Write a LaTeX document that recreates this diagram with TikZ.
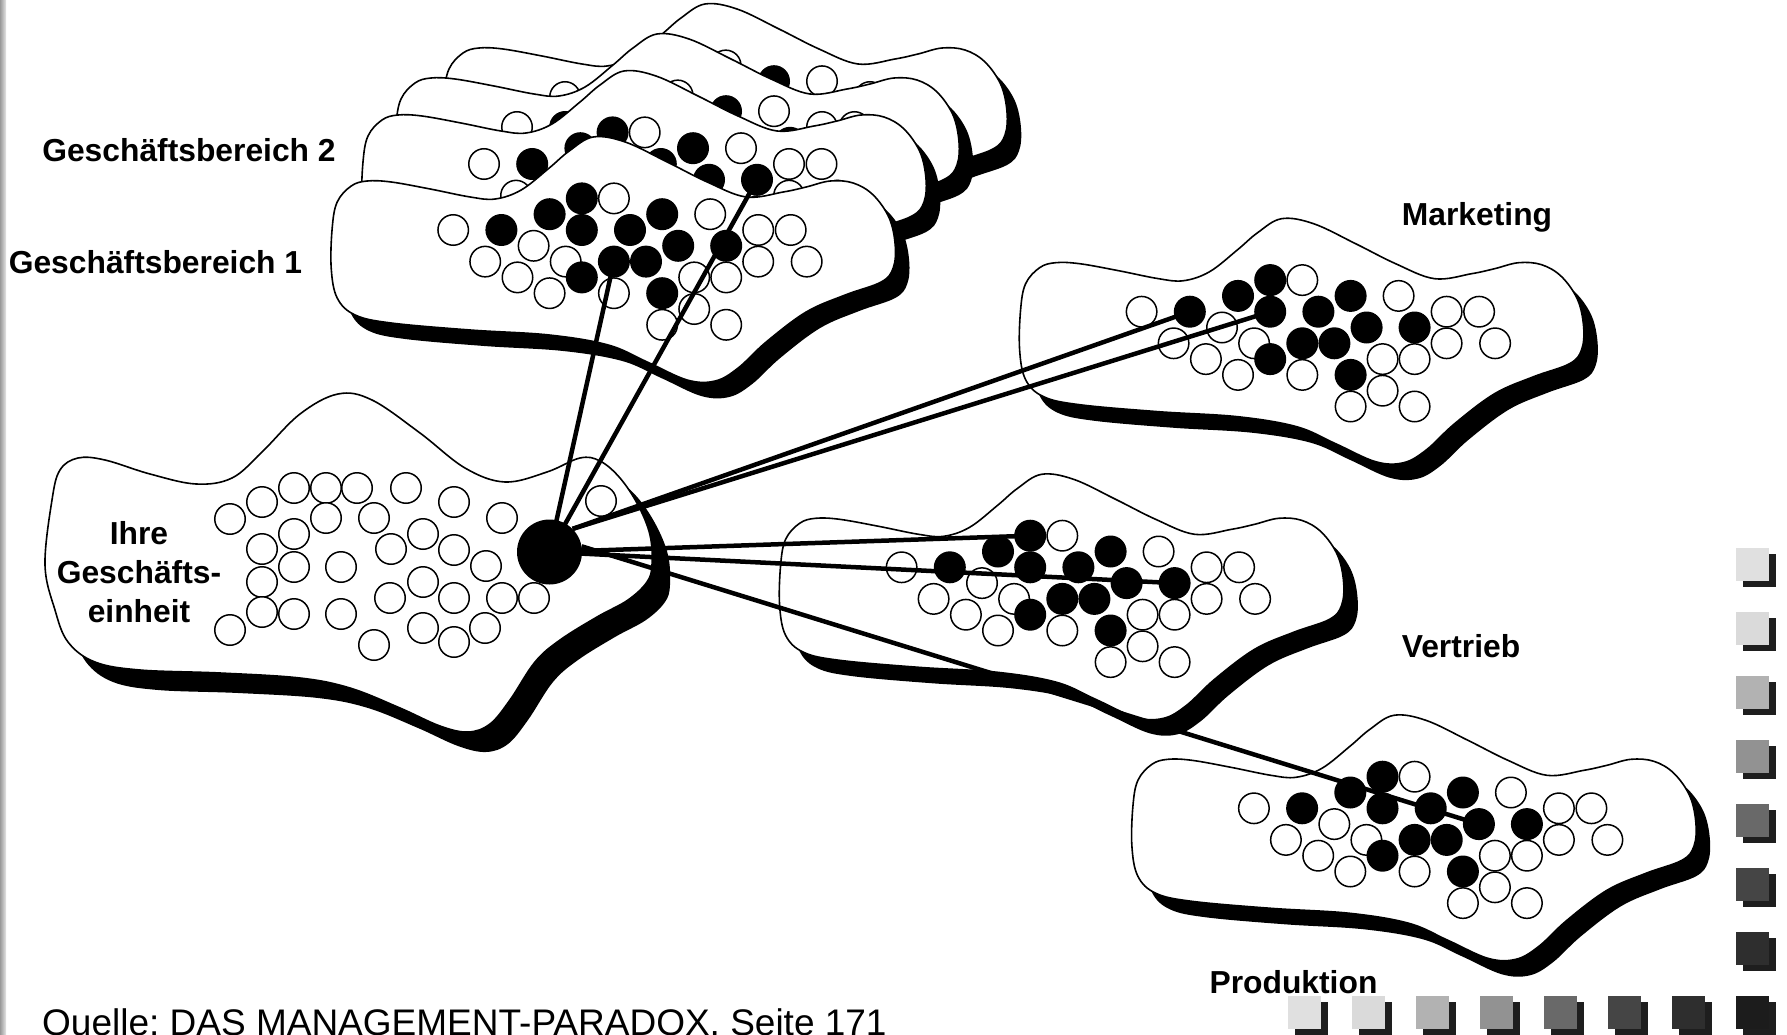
\documentclass[tikz,border=0pt]{standalone}
\usepackage{fontspec}
\setmainfont{Liberation Sans}
\frenchspacing
\definecolor{sq0}{HTML}{E0E0E0}
\definecolor{sq1}{HTML}{DADADA}
\definecolor{sq2}{HTML}{B2B2B2}
\definecolor{sq3}{HTML}{929292}
\definecolor{sq4}{HTML}{696969}
\definecolor{sq5}{HTML}{454545}
\definecolor{sq6}{HTML}{2E2E2E}
\definecolor{sq7}{HTML}{1C1C1C}
\definecolor{sqshadow}{HTML}{1E1E1E}
\newcommand{\blobpath}[1]{\path[#1] plot[smooth cycle, tension=0.6] coordinates {(-121,-2) (-116,-28) (-102,-44) (-86,-49) (-62,-48) (-23,-41) (17,-33) (42,-31) (68,-40) (96,-62) (116,-79) (140,-93) (172,-88) (214,-68) (254,-48) (293,-33) (330,-38) (353,-43) (377,-49) (400,-47) (420,-35) (436,-12) (442,15) (440,38) (428,52) (392,65) (353,82) (313,112) (285,138) (262,151) (234,150) (194,132) (155,115) (96,105) (17,100) (-62,93) (-98,85) (-116,68) (-122,38)};}
\newcommand{\dotpattern}[1]{%
  \foreach \n/\x/\y in {1/0/0, 5/160.7/-31.6, 7/80.4/15.8, 10/257/-15.8, 13/305/0, 14/337.5/0, 15/32/31.6, 16/64.3/47.4, 17/96.4/63.2, 18/112.5/31.6, 22/160.7/63.2, 24/241/47.4, 25/273/47.4, 26/305/31.6, 27/353.5/31.6, 28/241/79, 29/209/94.8, 30/273/94.8}
    {\node[oc] (#1-\n) at (\x,\y) {};}
  \foreach \n/\x/\y in {2/48.2/0, 3/96.4/-15.8, 4/128.6/-31.6, 6/128.6/0, 8/176.8/0, 9/209/-15.8, 11/225/15.8, 12/273/15.8, 19/128.6/47.4, 20/160.7/31.6, 21/192.8/31.6, 23/209/63.2}
    {\node[fc] (#1-\n) at (\x,\y) {};}
}
\newcommand{\deptblob}[2]{%
  \begin{scope}[shift={#1}]
    \blobpath{fill=black, shift={(14,16)}}
    \blobpath{draw=black, fill=white, line width=1.6pt}
    \dotpattern{#2}
  \end{scope}}
\begin{document}
\begin{tikzpicture}[x=1pt, y=-1pt,
  oc/.style={circle, draw=black, fill=white, line width=1.5pt, minimum size=30.5pt, inner sep=0pt},
  fc/.style={circle, fill=black, minimum size=32pt, inner sep=0pt},
  conn/.style={line width=4.5pt},
  lbl/.style={font=\fontsize{31.8}{39}\selectfont\bfseries, inner sep=0pt, anchor=base},
  sqsh/.style={fill=sqshadow}]
\useasboundingbox (0,0) rectangle (1787,1035);
\fill[white] (0,0) rectangle (1787,1035);
\shade[left color=black!40, right color=black!10] (0,0) rectangle (6,1035);

% Geschaeftsbereiche (stack, back to front)
\deptblob{(565,97)}{Ga}
\deptblob{(517,127)}{Gb}
\deptblob{(484,164)}{Gc}
\deptblob{(453.2,230)}{G1}

% Ihre Geschaeftseinheit
\path[fill=black, shift={(18,20)}] plot[smooth cycle, tension=0.6] coordinates {(45,565) (52,500) (60,470) (78,458) (105,460) (150,474) (196,484) (232,478) (262,452) (300,414) (338,394) (372,400) (420,433) (465,468) (505,482) (547,472) (580,458) (600,461) (620,478) (638,505) (650,535) (652,565) (647,582) (628,600) (597,617) (560,640) (535,662) (510,700) (490,724) (468,732) (440,726) (400,708) (350,688) (300,678) (220,673) (140,670) (95,662) (68,642) (55,610)};
\path[draw=black, fill=white, line width=1.6pt] plot[smooth cycle, tension=0.6] coordinates {(45,565) (52,500) (60,470) (78,458) (105,460) (150,474) (196,484) (232,478) (262,452) (300,414) (338,394) (372,400) (420,433) (465,468) (505,482) (547,472) (580,458) (600,461) (620,478) (638,505) (650,535) (652,565) (647,582) (628,600) (597,617) (560,640) (535,662) (510,700) (490,724) (468,732) (440,726) (400,708) (350,688) (300,678) (220,673) (140,670) (95,662) (68,642) (55,610)};
\foreach \n/\x/\y in {1/230/519, 2/262/502, 3/294/488, 4/326/488, 5/357/488, 6/406/488, 7/454/502, 8/502/518, 9/326/518, 10/374/518, 11/294/534, 12/262/549, 13/391/549, 14/423/534, 15/454/550, 16/486/566, 17/294/567, 18/341/567, 19/262/582, 20/423/582, 21/390/598, 22/454/598, 23/502/598, 24/534/598, 25/262/612, 26/294/614, 27/341/614, 28/230/630, 29/423/628, 30/485/628, 31/454/642, 32/374/645, 33/601/501}
  {\node[oc] (I-\n) at (\x,\y) {};}
\node[circle, fill=black, minimum size=65pt, inner sep=0pt] (dot) at (549.5,552) {};

% departments
\deptblob{(1141.6,311.7)}{M}
\deptblob{(901.6,567.3)}{V}
\deptblob{(1253.9,808.3)}{P}

% connectors
\draw[conn] (dot.center) -- (G1-20.center);
\draw[conn] (dot.center) -- (Gc-12.center);
\draw[conn] (dot.45) -- (M-2.center);
\draw[conn] (dot.45) -- (M-6.center);
\draw[conn] (dot.center) -- (V-4.center);
\draw[conn] (dot.center) -- (V-12.center);
\draw[conn] (dot.10) -- (P-11.center);

% labels
\node[lbl] (lgb2) at (189,162) {Geschäftsbereich 2};
\node[lbl] (lgb1) at (155.5,273.5) {Geschäftsbereich 1};
\node[lbl] (lmk) at (1477,225.5) {Marketing};
\node[lbl] (lvt) at (1461,657.5) {Vertrieb};
\node[lbl] (lpr) at (1293.5,993.5) {Produktion};
\node[lbl] (lihre1) at (139,544.8) {Ihre};
\node[lbl] (lihre2) at (139,583.5) {Geschäfts-};
\node[lbl] (lihre3) at (139,622.3) {einheit};
\node[font=\fontsize{37}{44}\selectfont, inner sep=0pt, anchor=base west] (quelle) at (42,1035) {Quelle: DAS MANAGEMENT-PARADOX, Seite 171};

% squares
\foreach \i in {0,...,7} {
  \fill[sqsh] ({1288+64*\i+7},1002) rectangle ++(33,33);
  \fill[fill=sq\i] ({1288+64*\i},996) rectangle ++(33,33);
  \fill[sqsh] (1743,{548+64*\i+6}) rectangle ++(33,33);
  \fill[fill=sq\i] (1736,{548+64*\i}) rectangle ++(33,33);
}
\end{tikzpicture}
\end{document}
